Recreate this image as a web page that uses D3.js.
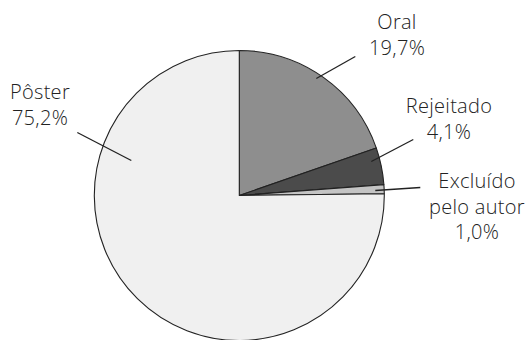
<!DOCTYPE html>
<meta charset="utf-8">
<head>
  <script src="https://cdn.jsdelivr.net/npm/d3@7"></script>
</head>
<body style="margin:0">
  <div id="viz"></div>
  <script>
    // Data (percent of submissions)
    var categories = ["Oral", "Rejeitado", "Excluído pelo autor", "Pôster"];
    var values = [19.7, 4.1, 1.0, 75.2];
    var valueLabels = ["19,7%", "4,1%", "1,0%", "75,2%"];

    var colors = ["#8e8e8e", "#4b4b4b", "#c4c4c4", "#f0f0f0"];

    var config = { width: 526, height: 340, cx: 239.3, cy: 195.5, r: 145 };

    // label placement: text centre x, first baseline y, leader start/end (relative to pie centre)
    var labelPos = [
      { x: 397, y: 29, lines: ["Oral"], from: [116, -139], to: [77, -117] },
      { x: 449, y: 113, lines: ["Rejeitado"], from: [174, -56], to: [132, -34] },
      { x: 477, y: 188, lines: ["Excluído", "pelo autor"], from: [181, -8], to: [136, -5] },
      { x: 40, y: 99, lines: ["Pôster"], from: [-162, -63], to: [-108, -35] }
    ];

    var svg = d3.select("#viz").append("svg")
      .attr("width", config.width)
      .attr("height", config.height);

    var g = svg.append("g")
      .attr("transform", "translate(" + config.cx + "," + config.cy + ")");

    var pie = d3.pie().sort(null).value(function(d) { return d; });
    var arc = d3.arc().innerRadius(0).outerRadius(config.r);

    g.selectAll(".slice")
      .data(pie(values))
      .enter().append("path")
      .attr("class", "slice")
      .attr("d", arc)
      .attr("fill", function(d, i) { return colors[i]; })
      .attr("stroke", "#222")
      .attr("stroke-width", 1.1)
      .attr("stroke-linejoin", "round");

    // leader lines
    g.selectAll(".leader")
      .data(labelPos)
      .enter().append("line")
      .attr("class", "leader")
      .attr("x1", function(d) { return d.from[0]; })
      .attr("y1", function(d) { return d.from[1]; })
      .attr("x2", function(d) { return d.to[0]; })
      .attr("y2", function(d) { return d.to[1]; })
      .attr("stroke", "#222")
      .attr("stroke-width", 1.3);

    // labels
    var lh = 25.5;
    labelPos.forEach(function(p, i) {
      var t = svg.append("text")
        .attr("text-anchor", "middle")
        .attr("font-family", "'Open Sans', sans-serif")
        .attr("font-weight", 300)
        .attr("font-size", 20)
        .attr("letter-spacing", 0.3)
        .attr("fill", "#222");
      var lines = p.lines.concat([valueLabels[i]]);
      lines.forEach(function(s, j) {
        t.append("tspan").attr("x", p.x).attr("y", p.y + j * lh).text(s);
      });
    });
  </script>
</body>
